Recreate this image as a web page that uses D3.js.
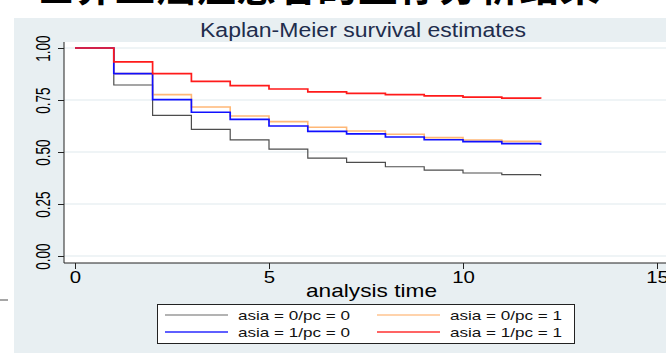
<!DOCTYPE html>
<html>
<head>
<meta charset="utf-8">
<script src="https://cdn.jsdelivr.net/npm/d3@7"></script>
<style>
  body { margin: 0; background: #fff; }
  svg { display: block; font-family: "Liberation Sans", Arial, sans-serif; }
</style>
</head>
<body>
<div id="chart"></div>
<script>
// survival estimates, one value per whole time unit
const times = [0, 1, 2, 3, 4, 5, 6, 7, 8, 9, 10, 11, 12];
const asia0pc0 = [1, 0.822, 0.676, 0.609, 0.558, 0.514, 0.471, 0.450, 0.429, 0.413, 0.399, 0.391, 0.385];
const asia0pc1 = [1, 0.877, 0.776, 0.716, 0.673, 0.646, 0.619, 0.601, 0.585, 0.569, 0.558, 0.551, 0.548];
const asia1pc0 = [1, 0.877, 0.752, 0.691, 0.657, 0.625, 0.599, 0.587, 0.572, 0.559, 0.550, 0.540, 0.534];
const asia1pc1 = [1, 0.933, 0.877, 0.840, 0.819, 0.803, 0.789, 0.782, 0.776, 0.770, 0.764, 0.759, 0.756];
const seriesNames = ['asia = 0/pc = 0', 'asia = 0/pc = 1', 'asia = 1/pc = 0', 'asia = 1/pc = 1'];
const xTicks = [0, 5, 10, 15];
const yTicks = [0, 0.25, 0.5, 0.75, 1];

const W = 666, H = 356;
const svg = d3.select('#chart').append('svg')
  .attr('width', W).attr('height', H);

// slide heading, mostly cut off at the top of the crop
svg.append('text')
  .attr('x', 34).attr('y', 1)
  .attr('font-family', '"Noto Sans CJK SC"')
  .attr('font-size', 40).attr('font-weight', 'bold')
  .attr('fill', '#000')
  .attr('textLength', 566).attr('lengthAdjust', 'spacing')
  .text('世界上癌症患者的生存分析结果');

// graph region (the graph is stretched a little sideways in the slide)
svg.append('rect')
  .attr('x', 14).attr('y', 18).attr('width', W - 14).attr('height', 335)
  .attr('fill', '#e8eff2');

svg.append('line')
  .attr('x1', 0).attr('x2', 8).attr('y1', 300).attr('y2', 300)
  .attr('stroke', '#888').attr('stroke-width', 1.5);

const plotLeft = 64, plotTop = 42, plotBottom = 263;
svg.append('rect')
  .attr('x', plotLeft).attr('y', plotTop)
  .attr('width', W - plotLeft).attr('height', plotBottom - plotTop)
  .attr('fill', '#fff');

const x = d3.scaleLinear().domain([0, 15]).range([75, 657]);
const y = d3.scaleLinear().domain([0, 1]).range([256, 48]);

svg.append('text')
  .attr('x', 200).attr('y', 37)
  .attr('font-size', 19.5)
  .attr('fill', '#1f2d4d')
  .attr('textLength', 326).attr('lengthAdjust', 'spacingAndGlyphs')
  .text('Kaplan-Meier survival estimates');

// grid
svg.append('g').selectAll('line')
  .data(yTicks)
  .join('line')
  .attr('x1', plotLeft).attr('x2', W)
  .attr('y1', d => y(d)).attr('y2', d => y(d))
  .attr('stroke', '#eaf1f3').attr('stroke-width', 1.5);

// y axis
const yAxis = svg.append('g')
  .attr('transform', `translate(${plotLeft},0)`)
  .call(d3.axisLeft(y).tickValues(yTicks).tickFormat(d3.format('.2f')).tickSize(6).tickPadding(0));
yAxis.select('.domain').attr('d', `M0,${plotTop}V${plotBottom}`).attr('stroke', '#222');
yAxis.selectAll('.tick line').attr('stroke', '#222');
yAxis.selectAll('.tick text')
  .attr('transform', 'translate(-14,0) rotate(-90) scale(0.9,1.4)')
  .attr('x', 0).attr('y', 0).attr('dy', null)
  .attr('text-anchor', 'middle')
  .attr('font-size', 15).attr('fill', '#000');

// x axis
const xAxis = svg.append('g')
  .attr('transform', `translate(0,${plotBottom})`)
  .call(d3.axisBottom(x).tickValues(xTicks).tickFormat(d3.format('d')).tickSize(6).tickPadding(2));
xAxis.select('.domain').attr('d', `M${plotLeft},0H${W}`).attr('stroke', '#222');
xAxis.selectAll('.tick line').attr('stroke', '#222');
xAxis.selectAll('.tick text')
  .attr('transform', 'scale(1.2,1)')
  .attr('font-size', 17).attr('fill', '#000');

svg.append('text')
  .attr('x', 306).attr('y', 297)
  .attr('font-size', 19).attr('fill', '#000')
  .attr('textLength', 131).attr('lengthAdjust', 'spacingAndGlyphs')
  .text('analysis time');

// curves
const series = [
  { name: seriesNames[0], values: asia0pc0, color: '#4d4d4d', legend: '#9a9a9a', width: 1.2 },
  { name: seriesNames[1], values: asia0pc1, color: '#ffb877', legend: '#ffc590', width: 1.6 },
  { name: seriesNames[2], values: asia1pc0, color: '#1010ff', legend: '#2a2aff', width: 1.7 },
  { name: seriesNames[3], values: asia1pc1, color: '#ff1a1a', legend: '#ff3030', width: 1.7 }
];

const line = d3.line()
  .x((d, i) => x(times[i]))
  .y(d => y(d))
  .curve(d3.curveStepAfter);

svg.append('g').selectAll('path')
  .data(series)
  .join('path')
  .attr('d', d => line(d.values))
  .attr('fill', 'none')
  .attr('stroke', d => d.color)
  .attr('stroke-width', d => d.width);

// legend
const legend = svg.append('g');
legend.append('rect')
  .attr('x', 157.5).attr('y', 304.5).attr('width', 417).attr('height', 39)
  .attr('fill', '#fff').attr('stroke', '#222').attr('stroke-width', 1);

const items = legend.selectAll('g.item')
  .data(series)
  .join('g')
  .attr('class', 'item')
  .attr('transform', (d, i) => `translate(${i % 2 ? 377 : 165},${i < 2 ? 315 : 332})`);
items.append('line')
  .attr('x1', 0).attr('x2', 63)
  .attr('stroke', d => d.legend).attr('stroke-width', 1.4);
items.append('text')
  .attr('x', 73).attr('dy', '0.35em')
  .attr('font-size', 13.5).attr('fill', '#111')
  .attr('textLength', 112).attr('lengthAdjust', 'spacingAndGlyphs')
  .text(d => d.name);
</script>
</body>
</html>
